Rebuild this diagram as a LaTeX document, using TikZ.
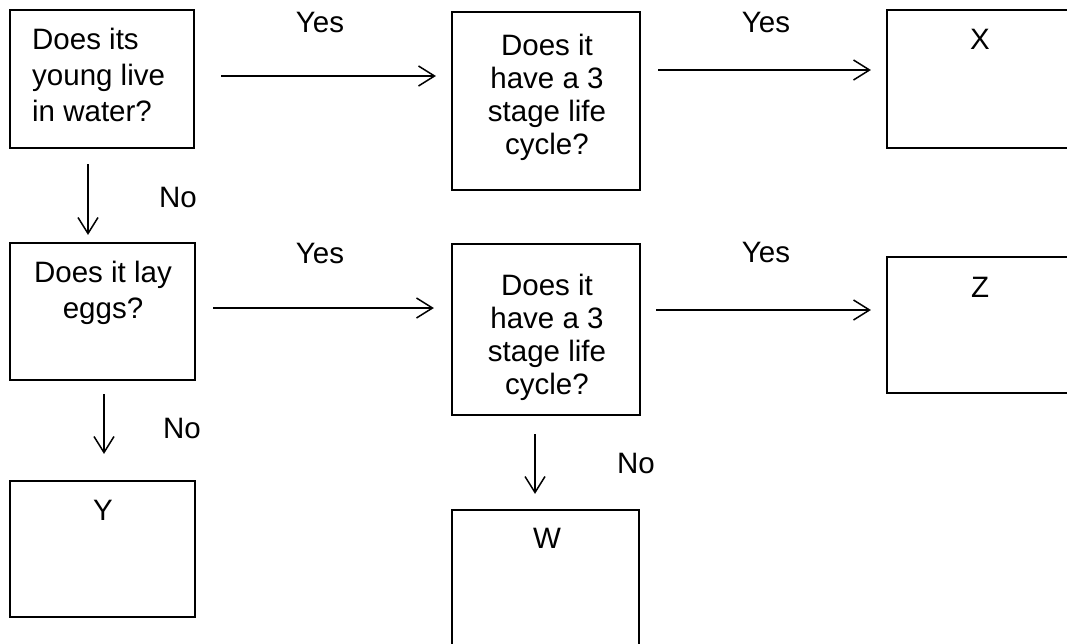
\documentclass[tikz,border=0pt]{standalone}
\usepackage{fontspec}
\setmainfont{Liberation Sans}
\usetikzlibrary{arrows.meta}
\begin{document}
\begin{tikzpicture}[x=1pt,y=-1pt,
  box/.style={draw, line width=2.2pt, inner sep=0pt},
  txt/.style={inner sep=0pt, font=\fontsize{29.5}{33}\selectfont},
  arr/.style={line width=1.5pt, -{Straight Barb[length=16pt,width=20pt,line width=1.5pt]}}]
\clip (0,0) rectangle (1067,643);
\fill[white] (0,0) rectangle (1067,643);
% boxes
\node[box, minimum width=184pt, minimum height=138pt] (A) at (102,79) {};
\node[box, minimum width=188pt, minimum height=178pt] (B) at (546,101) {};
\node[box, minimum width=203pt, minimum height=138pt] (X) at (988.5,79) {};
\node[box, minimum width=185pt, minimum height=137pt] (C) at (102.5,311.5) {};
\node[box, minimum width=188pt, minimum height=171pt] (D) at (546,329.5) {};
\node[box, minimum width=203pt, minimum height=136pt] (Z) at (988.5,325) {};
\node[box, minimum width=185pt, minimum height=136pt] (Y) at (102.5,549) {};
\node[box, minimum width=187pt, minimum height=170pt] (W) at (545.5,595) {};
% texts
\node[txt, align=left, anchor=north west, font=\fontsize{29.5}{36}\selectfont] (At) at (32,28) {Does its\\young live\\in water?};
\node[txt, align=center, anchor=north] (Bt) at (547,34) {Does it\\have a 3\\stage life\\cycle?};
\node[txt, align=center, anchor=north, font=\fontsize{29.5}{36}\selectfont] (Ct) at (103,261) {Does it lay\\eggs?};
\node[txt, align=center, anchor=north] (Dt) at (547,274) {Does it\\have a 3\\stage life\\cycle?};
\node[txt] (Xt) at (980,39) {X};
\node[txt] (Zt) at (980,287) {Z};
\node[txt] (Yt) at (103,510) {Y};
\node[txt] (Wt) at (547,538) {W};
% labels
\node[txt] (yes1) at (320,22) {Yes};
\node[txt] (yes2) at (766,22) {Yes};
\node[txt] (yes3) at (320,253) {Yes};
\node[txt] (yes4) at (766,252) {Yes};
\node[txt] (no1) at (178,197) {No};
\node[txt] (no2) at (182,428) {No};
\node[txt] (no3) at (636,463) {No};
% connectors
\draw[arr, shorten <=26pt, shorten >=15pt] ([yshift=3pt]A.east) -- ([yshift=3pt]A.east -| B.west);
\draw[arr, shorten <=17pt, shorten >=15pt] ([yshift=9pt]X.west -| B.east) -- ([yshift=9pt]X.west);
\draw[arr, shorten <=17pt, shorten >=17pt] ([yshift=3.5pt]C.east) -- ([yshift=3.5pt]C.east -| D.west);
\draw[arr, shorten <=15pt, shorten >=15pt] ([yshift=15pt]Z.west -| D.east) -- ([yshift=15pt]Z.west);
\draw[arr, shorten <=15pt, shorten >=7pt] ([xshift=-14pt]A.south) -- ([xshift=-14pt]A.south |- C.north);
\draw[arr, shorten <=13pt, shorten >=26pt] ([xshift=1.5pt]C.south) -- ([xshift=1.5pt]C.south |- Y.north);
\draw[arr, shorten <=18pt, shorten >=15pt] ([xshift=-11pt]D.south) -- ([xshift=-11pt]D.south |- W.north);
\end{tikzpicture}
\end{document}
